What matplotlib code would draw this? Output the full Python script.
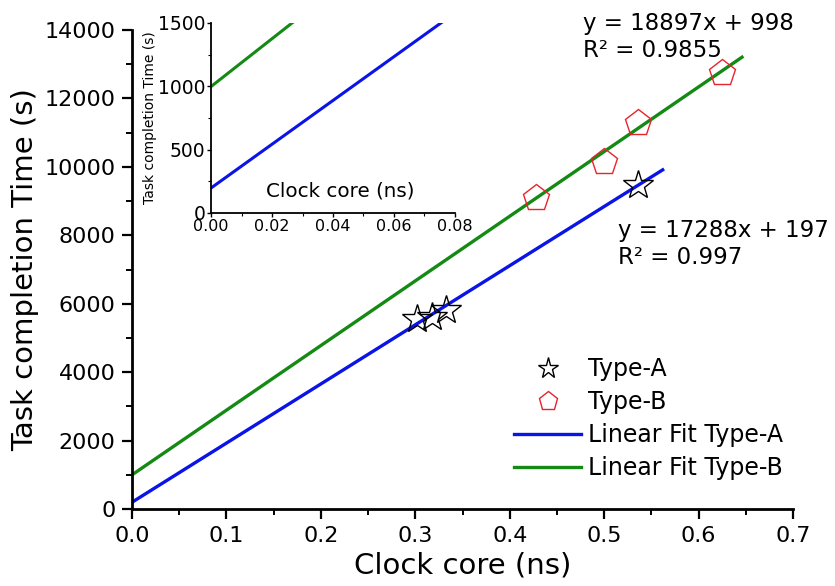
import numpy as np
import matplotlib
matplotlib.use("Agg")
import matplotlib.pyplot as plt
from matplotlib.ticker import MultipleLocator

# measured points
a_x = [0.302, 0.318, 0.333, 0.536]
a_y = [5560, 5610, 5810, 9460]
b_x = [0.428, 0.500, 0.536, 0.625]
b_y = [9090, 10150, 11280, 12730]

# linear fits as printed on the chart
fit_a = (17288, 197, 0.997)
fit_b = (18897, 998, 0.9855)
fit_a_xmax = 0.562
fit_b_xmax = 0.646

blue = "#0a14e6"
green = "#148a14"
red = "#e8232d"

plt.rcParams['font.family'] = ['DejaVu Sans']

fig = plt.figure(figsize=(8.35, 5.86), dpi=100)
ax = fig.add_axes([132 / 835, 77 / 586, 661 / 835, 479 / 586])

xa = np.array([0, fit_a_xmax])
xb = np.array([0, fit_b_xmax])
ax.plot(xa, fit_a[0] * xa + fit_a[1], color=blue, lw=2.4, label="Linear Fit Type-A", zorder=2)
ax.plot(xb, fit_b[0] * xb + fit_b[1], color=green, lw=2.4, label="Linear Fit Type-B", zorder=2)
ax.plot(a_x, a_y, ls="none", marker="*", ms=22, mfc="none", mec="black", mew=1.0,
        label="Type-A", zorder=3)
ax.plot(b_x, b_y, ls="none", marker="p", ms=20, mfc="none", mec=red, mew=1.0,
        label="Type-B", zorder=3)

ax.set_xlim(0, 0.7)
ax.set_ylim(0, 14000)
ax.xaxis.set_major_locator(MultipleLocator(0.1))
ax.xaxis.set_minor_locator(MultipleLocator(0.05))
ax.yaxis.set_major_locator(MultipleLocator(2000))
ax.yaxis.set_minor_locator(MultipleLocator(1000))
ax.xaxis.set_major_formatter(plt.FuncFormatter(lambda v, p: f"{v:.1f}"))
for s in ["top", "right"]:
    ax.spines[s].set_visible(False)
for s in ["left", "bottom"]:
    ax.spines[s].set_linewidth(2)
ax.tick_params(which="major", direction="out", length=7, width=1.6, labelsize=16, pad=5)
ax.tick_params(which="minor", direction="out", length=4, width=1.4)
ax.set_xlabel("Clock core (ns)", fontsize=21, labelpad=4)
ax.set_ylabel("Task completion Time (s)", fontsize=21, labelpad=4)

h, l = ax.get_legend_handles_labels()
order = [2, 3, 0, 1]
fig.legend([h[i] for i in order], [l[i] for i in order], loc="upper left",
           bbox_to_anchor=(505 / 835, 1 - 348 / 586), frameon=False, fontsize=17,
           handlelength=2.8, handletextpad=0.3, labelspacing=0.38, borderaxespad=0,
           markerscale=0.7)

fig.text(583 / 835, 1 - 37 / 586,
         f"y = {fit_b[0]}x + {fit_b[1]}\nR\u00b2 = {fit_b[2]}",
         fontsize=16.5, va="center", ha="left", linespacing=1.2)
fig.text(618 / 835, 1 - 244 / 586,
         f"y = {fit_a[0]}x + {fit_a[1]}\nR\u00b2 = {fit_a[2]}",
         fontsize=16.5, va="center", ha="left", linespacing=1.2)

# inset zoom near the origin
ins = fig.add_axes([211 / 835, 1 - 213 / 586, 244 / 835, 190 / 586])
ins.plot(xa, fit_a[0] * xa + fit_a[1], color=blue, lw=2.2)
ins.plot(xb, fit_b[0] * xb + fit_b[1], color=green, lw=2.2)
ins.set_xlim(0, 0.08)
ins.set_ylim(0, 1500)
ins.xaxis.set_major_locator(MultipleLocator(0.02))
ins.xaxis.set_minor_locator(MultipleLocator(0.01))
ins.yaxis.set_major_locator(MultipleLocator(500))
ins.yaxis.set_minor_locator(MultipleLocator(250))
ins.xaxis.set_major_formatter(plt.FuncFormatter(lambda v, p: f"{v:.2f}"))
for s in ["top", "right"]:
    ins.spines[s].set_visible(False)
for s in ["left", "bottom"]:
    ins.spines[s].set_linewidth(1.3)
ins.tick_params(which="major", direction="out", length=3, width=1, pad=1)
ins.tick_params(axis="x", labelsize=11.5)
ins.tick_params(axis="y", labelsize=13.5)
ins.tick_params(which="minor", direction="out", length=2, width=0.8)
ins.set_facecolor("none")
ins.text(0.0423, 170, "Clock core (ns)", fontsize=14.3, ha="center", va="center")
ins.set_ylabel("Task completion Time (s)", fontsize=10, labelpad=1)

fig.savefig("out.png", dpi=100)
